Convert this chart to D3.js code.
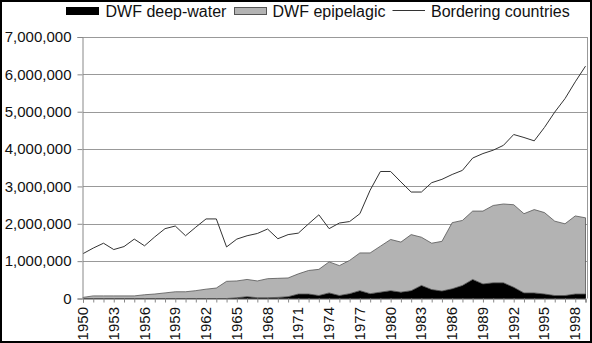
<!DOCTYPE html>
<html><head><meta charset="utf-8">
<script src="https://cdn.jsdelivr.net/npm/d3@7"></script>
<style>body{margin:0;background:#fff}svg{display:block;font-family:"Liberation Sans",Arial,sans-serif}</style>
</head><body><svg id="c" width="592" height="343"></svg>
<script>
const years = d3.range(1950, 2000);
const deepWater = [0,0,0,0,0,0,0,0,0,0,0,0,0,0,0,20000,50000,20000,20000,30000,50000,120000,120000,80000,150000,80000,130000,210000,130000,170000,210000,170000,210000,350000,240000,200000,260000,350000,510000,390000,420000,420000,300000,150000,150000,120000,80000,80000,120000,120000];
const epipelagic = [30000,70000,70000,70000,70000,70000,100000,120000,150000,180000,180000,210000,250000,280000,460000,450000,460000,450000,510000,510000,500000,540000,630000,700000,830000,800000,890000,1010000,1090000,1230000,1370000,1340000,1500000,1290000,1240000,1330000,1770000,1740000,1830000,1950000,2070000,2110000,2210000,2120000,2230000,2180000,1990000,1920000,2090000,2040000];
const bordering = [1200000,1350000,1480000,1310000,1390000,1590000,1410000,1650000,1870000,1940000,1680000,1910000,2130000,2130000,1380000,1590000,1680000,1740000,1860000,1600000,1710000,1750000,2000000,2240000,1870000,2020000,2060000,2270000,2900000,3400000,3400000,3120000,2850000,2850000,3100000,3190000,3320000,3430000,3760000,3880000,3970000,4100000,4390000,4310000,4220000,4580000,4990000,5350000,5800000,6220000];
const yTicks = [0,1000000,2000000,3000000,4000000,5000000,6000000,7000000];
const xLabelYears = d3.range(1950, 1999, 3);
const seriesNames = ["DWF deep-water","DWF epipelagic","Bordering countries"];

const svg = d3.select("#c");
const L = 83, R = 585.5, T = 37, B = 298.5;
const x = d3.scaleLinear().domain([1950,1999]).range([L,R]);
const y = d3.scaleLinear().domain([0,7000000]).range([B,T]);

// gridlines
svg.append("g").selectAll("line").data(yTicks.slice(1)).join("line")
  .attr("x1",L).attr("x2",587).attr("y1",d=>Math.round(y(d))+0.5).attr("y2",d=>Math.round(y(d))+0.5)
  .attr("stroke","#999").attr("stroke-width",1);
svg.append("line").attr("x1",587.5).attr("x2",587.5).attr("y1",T).attr("y2",B).attr("stroke","#999");

// stacked areas
const table = years.map((yr,i)=>({year:yr, deep:deepWater[i], epi:epipelagic[i]}));
const stack = d3.stack().keys(["deep","epi"])(table);
const area = d3.area().x(d=>x(d.data.year)).y0(d=>y(d[0])).y1(d=>y(d[1]));
const fills = ["#000","#b3b3b3"];
svg.append("g").selectAll("path").data(stack).join("path")
  .attr("d",area).attr("fill",(d,i)=>fills[i]).attr("stroke",(d,i)=>i? "#555":"#000").attr("stroke-width",0.8);

// line
svg.append("path").datum(bordering).attr("fill","none").attr("stroke","#333").attr("stroke-width",1)
  .attr("d", d3.line().x((d,i)=>x(years[i])).y(d=>y(d)));

// y axis
const ya = svg.append("g").attr("transform",`translate(${L-0.5},0)`)
  .call(d3.axisLeft(y).tickValues(yTicks).tickSize(5).tickPadding(6).tickFormat(d3.format(",")));
ya.select(".domain").attr("stroke","#888");
ya.selectAll(".tick line").attr("stroke","#888");
ya.selectAll("text").attr("font-size",15).attr("fill","#111").attr("font-family","Liberation Sans, Arial");

// x axis
const xa = svg.append("g").attr("transform",`translate(0,${B})`)
  .call(d3.axisBottom(x).tickValues(years).tickSize(4).tickFormat(""));
xa.select(".domain").attr("stroke","#555");
xa.selectAll(".tick line").attr("stroke","#888");
svg.append("g").selectAll("text").data(xLabelYears).join("text")
  .attr("transform",d=>`translate(${x(d)+5},307) rotate(-90)`)
  .attr("text-anchor","end").attr("font-size",15).attr("fill","#111").text(d=>d);

// legend
const lg = svg.append("g");
lg.append("rect").attr("x",66).attr("y",7).attr("width",33).attr("height",8).attr("fill","#000");
lg.append("text").attr("x",105.5).attr("y",17).attr("font-size",16).attr("fill","#111").text(seriesNames[0]);
lg.append("rect").attr("x",234.5).attr("y",7.5).attr("width",32).attr("height",7).attr("fill","#b3b3b3").attr("stroke","#555");
lg.append("text").attr("x",272.5).attr("y",17).attr("font-size",16).attr("fill","#111").text(seriesNames[1]);
lg.append("line").attr("x1",392.5).attr("x2",425).attr("y1",10.5).attr("y2",10.5).attr("stroke","#333");
lg.append("text").attr("x",431).attr("y",17).attr("font-size",16).attr("fill","#111").text(seriesNames[2]);

// outer frame
svg.append("rect").attr("x",1).attr("y",1).attr("width",590).attr("height",341)
  .attr("fill","none").attr("stroke","#000").attr("stroke-width",2);
</script></body></html>
